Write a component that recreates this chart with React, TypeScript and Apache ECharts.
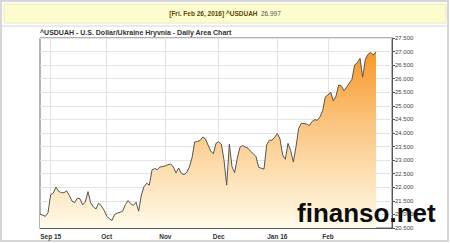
import { useEffect, useRef } from "react";
import * as echarts from "echarts";

// USD/UAH daily closes (one array per month)
const augValues = [21.01, 20.97, 20.93, 21.06];
const sepValues = [21.73, 21.79, 22.01, 21.85, 21.8, 21.8, 21.87, 21.7, 21.49, 21.43, 21.6, 21.57, 21.35, 21.46, 21.84, 21.43, 21.28, 21.2, 21.42, 21.31, 21.16];
const octValues = [20.94, 20.84, 20.78, 21.0, 21.05, 21.08, 21.12, 21.36, 21.51, 21.4, 21.33, 21.45, 21.12, 21.71, 22.02, 22.15, 22.08, 22.64, 22.69, 22.65, 22.75, 22.76];
const novValues = [22.79, 22.83, 22.86, 22.75, 22.53, 22.71, 22.51, 22.47, 22.54, 22.75, 23.08, 23.67, 23.69, 23.72, 23.85, 23.79, 23.56, 23.34, 23.23, 23.62];
const decValues = [23.68, 23.59, 23.0, 22.08, 23.59, 22.76, 22.54, 23.08, 23.48, 23.54, 23.48, 23.44, 23.32, 23.24, 23.13, 22.74, 22.7, 22.67, 23.56, 23.73, 23.74, 23.84];
const janValues = [23.98, 23.78, 23.19, 23.03, 23.62, 23.35, 22.93, 23.49, 24.17, 24.36, 24.35, 24.33, 24.27, 24.42, 24.49, 24.47, 24.6, 24.82, 25.33];
const febValues = [25.4, 25.51, 25.18, 25.36, 25.77, 25.73, 25.56, 25.69, 25.84, 25.98, 26.51, 26.58, 26.75, 26.06, 26.71, 26.9, 26.97, 26.87, 26.997];

// Trading calendar
const firstDate = "2015-08-26";
const lastAxisDate = "2016-03-07";
const holidays = ["2015-09-07", "2015-11-26", "2015-12-25", "2016-01-01", "2016-01-18", "2016-02-15"];

// Month tick labels
const tickMonths = ["2015-09", "2015-10", "2015-11", "2015-12", "2016-01", "2016-02"];
const tickLabels = ["Sep 15", "Oct", "Nov", "Dec", "Jan 16", "Feb"];

// Y axis
const yMin = 20.5;
const yMax = 27.5;
const yStep = 0.5;

const headerDate = "[Fri. Feb 26, 2016]";
const symbolName = "^USDUAH";
const chartTitle = "^USDUAH - U.S. Dollar/Ukraine Hryvnia - Daily Area Chart";
const watermark = "finanso.net";

function buildTradingDays(start: string, end: string): string[] {
  const out: string[] = [];
  const d = new Date(start + "T00:00:00Z");
  const e = new Date(end + "T00:00:00Z");
  while (d.getTime() <= e.getTime()) {
    const dow = d.getUTCDay();
    const iso = d.toISOString().slice(0, 10);
    if (dow !== 0 && dow !== 6 && holidays.indexOf(iso) < 0) out.push(iso);
    d.setUTCDate(d.getUTCDate() + 1);
  }
  return out;
}

export default function App() {
  const ref = useRef<HTMLDivElement>(null);

  useEffect(() => {
    if (!ref.current) return;
    const chart = echarts.init(ref.current, null, { renderer: "svg" });

    const dates = buildTradingDays(firstDate, lastAxisDate);
    const values = [...augValues, ...sepValues, ...octValues, ...novValues, ...decValues, ...janValues, ...febValues];
    const last = values[values.length - 1];

    const isTick = (idx: number) => {
      const m = dates[idx].slice(0, 7);
      if (tickMonths.indexOf(m) < 0) return false;
      return idx === 0 || dates[idx - 1].slice(0, 7) !== m;
    };
    const labelOf = (v: string) => {
      const k = tickMonths.indexOf(v.slice(0, 7));
      return k >= 0 ? tickLabels[k] : "";
    };

    const font = "'Liberation Sans', Arial, sans-serif";

    chart.setOption({
      animation: false,
      backgroundColor: "#ffffff",
      grid: {
        left: 40,
        top: 38,
        width: 352,
        height: 190,
        show: true,
        borderColor: "#666",
        borderWidth: 1,
        backgroundColor: "transparent",
      },
      xAxis: {
        type: "category",
        data: dates,
        boundaryGap: false,
        axisLine: { show: true, lineStyle: { color: "#555", width: 1 } },
        axisTick: { show: false },
        axisLabel: {
          interval: (idx: number) => isTick(idx),
          formatter: (v: string) => labelOf(v),
          fontSize: 6.5,
          fontWeight: "bold",
          color: "#333",
          fontFamily: font,
          margin: 5,
        },
        splitLine: {
          show: true,
          interval: (idx: number) => isTick(idx),
          lineStyle: { color: "#e4e4e4", width: 1 },
        },
      },
      yAxis: {
        type: "value",
        position: "right",
        min: yMin,
        max: yMax,
        interval: yStep,
        axisLine: { show: true, lineStyle: { color: "#555", width: 1 } },
        axisTick: { show: true, length: 3, lineStyle: { color: "#555" } },
        axisLabel: {
          formatter: (v: number) => v.toFixed(3),
          fontSize: 6,
          color: "#444",
          fontFamily: font,
          margin: 3,
        },
        splitLine: { show: true, lineStyle: { color: "#e4e4e4", width: 1 } },
      },
      series: [
        {
          type: "line",
          data: values,
          showSymbol: false,
          symbol: "none",
          lineStyle: { color: "#555", width: 1 },
          areaStyle: {
            opacity: 1,
            color: new echarts.graphic.LinearGradient(
              0, 38, 0, 228,
              [
                { offset: 0, color: "#f78f18" },
                { offset: 0.45, color: "#fbc57e" },
                { offset: 1, color: "#fffbea" },
              ],
              true
            ),
          },
          markLine: {
            silent: true,
            symbol: "none",
            lineStyle: { opacity: 0, width: 0 },
            label: {
              position: "end",
              distance: 2,
              formatter: () => last.toFixed(3),
              color: "#fff",
              backgroundColor: "#111",
              fontSize: 6,
              fontFamily: font,
              padding: [1, 1, 0, 1],
            },
            data: [{ yAxis: last }],
          },
        },
      ],
      graphic: [
        {
          type: "rect",
          shape: { x: 1, y: 1, width: 447, height: 240 },
          style: { fill: "none", stroke: "#d6d6d6", lineWidth: 2 },
          silent: true,
        },
        {
          type: "rect",
          shape: { x: 4, y: 4, width: 442, height: 19 },
          style: { fill: "#fdfccf", stroke: "#e9e8c0", lineWidth: 1 },
          silent: true,
        },
        {
          type: "line",
          shape: { x1: 2, y1: 26, x2: 448, y2: 26 },
          style: { stroke: "#d6d6d6", lineWidth: 1 },
          silent: true,
        },
        {
          type: "text",
          x: 225,
          y: 13.5,
          style: {
            text: "{b|" + headerDate + " " + symbolName + "} {n|" + last.toFixed(3) + "}",
            align: "center",
            verticalAlign: "middle",
            rich: {
              b: { fontSize: 6.5, fontWeight: "bold", fill: "#5a4806", fontFamily: font },
              n: { fontSize: 6.5, fill: "#555", fontFamily: font },
            },
          },
          silent: true,
        },
        {
          type: "text",
          x: 40,
          y: 32,
          style: {
            text: chartTitle,
            fontSize: 7,
            fontWeight: "bold",
            fill: "#333",
            fontFamily: font,
            align: "left",
            verticalAlign: "middle",
          },
          silent: true,
        },
        {
          type: "text",
          x: 297,
          y: 213,
          z: 100,
          style: {
            text: watermark,
            fontSize: 26,
            fontWeight: "bold",
            fill: "#0d0d0d",
            fontFamily: font,
            align: "left",
            verticalAlign: "middle",
          },
          silent: true,
        },
      ],
    });

    return () => chart.dispose();
  }, []);

  return (
    <div
      ref={ref}
      style={{ position: "fixed", left: 0, top: 0, width: 450, height: 243, background: "#fff" }}
    />
  );
}
